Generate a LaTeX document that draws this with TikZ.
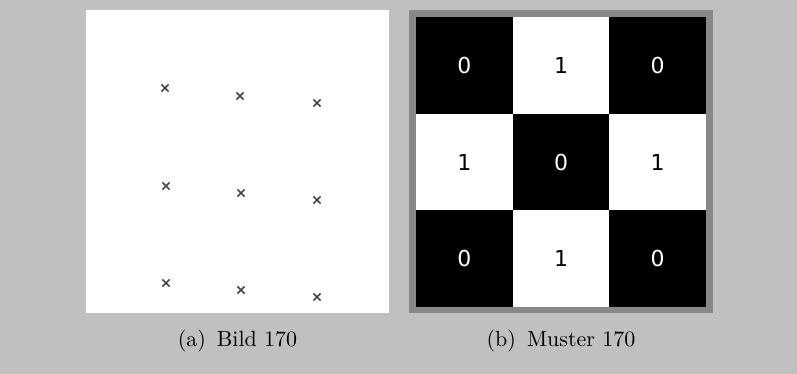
\documentclass[tikz,border=0pt]{standalone}
\usepackage{fontspec}
\newfontfamily\ziffern{DejaVu Sans}
\newfontfamily\capfont{lmroman10-regular}[Extension=.otf]
\usetikzlibrary{shapes.misc}
\definecolor{bggray}{RGB}{192,192,192}
\definecolor{framegray}{RGB}{136,136,136}
\definecolor{kreuzgray}{RGB}{70,70,70}

\begin{document}
\begin{tikzpicture}[x=1pt,y=-1pt,
  kreuz/.style={cross out,draw=kreuzgray,line width=1.7pt,minimum size=5.5pt,inner sep=0pt},
  zelle/.style={minimum size=96.67pt,inner sep=0pt,
    font=\ziffern\fontsize{22}{26}\selectfont},
  untertitel/.style={font=\capfont\fontsize{22}{26}\selectfont}]

% --- page background ---
\fill[bggray] (0,0) rectangle (797,374);

% --- (a) image: white square with the marks ---
\fill[white] (86,10) rectangle (389,313);
\foreach \x/\y [count=\i] in {165/88,240/96,317/103,
                              166/186,241/193,317/200,
                              166/283,241/290,317/297}
  \node[kreuz] (p\i) at (\x,\y) {};

% --- (b) pattern: grey frame and 3x3 checkerboard ---
\fill[framegray] (409,10) rectangle (713,313);
\foreach \r in {0,1,2}
  \foreach \c in {0,1,2}{
    \pgfmathtruncatemacro\v{mod(\r+\c,2)}
    \ifnum\v=0 \def\fc{black}\def\tc{white}\else\def\fc{white}\def\tc{black}\fi
    \node[zelle,fill=\fc,text=\tc] (z\r\c)
      at ({416+96.67*(\c+0.5)},{17+96.67*(\r+0.5)}) {\v};
  }

% --- captions ---
\node[untertitel] (capa) at (237.5,341) {(a)\hspace{0.5em}Bild 170};
\node[untertitel] (capb) at (561,341) {(b)\hspace{0.5em}Muster 170};
\end{tikzpicture}
\end{document}
